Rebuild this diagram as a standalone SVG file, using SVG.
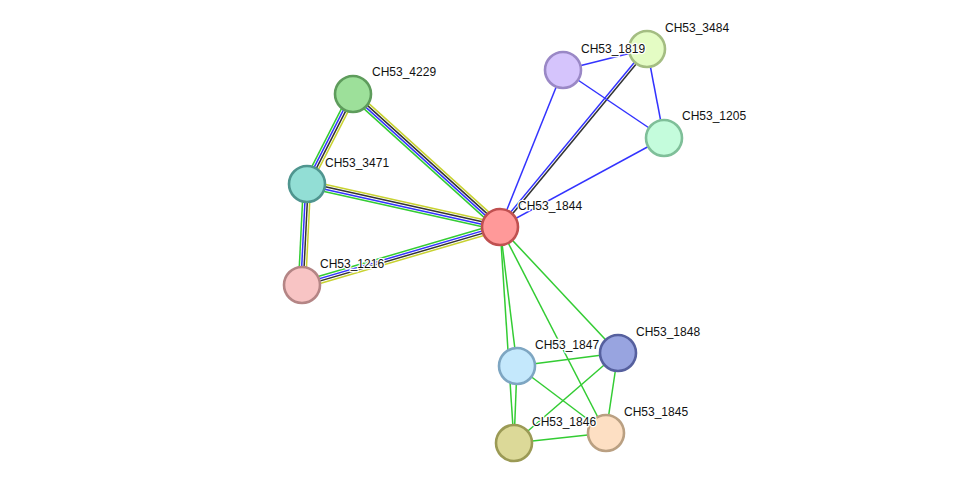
<svg xmlns="http://www.w3.org/2000/svg" width="975" height="489" viewBox="0 0 975 489">
<style>
.e{stroke-width:1.5;fill:none}
.g{stroke:#33cc33}
.b{stroke:#3333ff}
.k{stroke:#333333}
.y{stroke:#c8d230}
.n{stroke-width:2.6}
.t{font-family:"Liberation Sans",Arial,sans-serif;font-size:12px;fill:#111;stroke:#fff;stroke-width:2.5;paint-order:stroke;stroke-linejoin:round}
</style>
<rect width="975" height="489" fill="#fff"/>
<g id="connectors">
<line class="e g" x1="349.80" y1="92.36" x2="303.80" y2="182.36"/>
<line class="e b" x1="351.93" y1="93.45" x2="305.93" y2="183.45"/>
<line class="e k" x1="354.07" y1="94.55" x2="308.07" y2="184.55"/>
<line class="e y" x1="356.20" y1="95.64" x2="310.20" y2="185.64"/>
<line class="e y" x1="355.42" y1="91.33" x2="502.42" y2="224.33"/>
<line class="e k" x1="353.81" y1="93.11" x2="500.81" y2="226.11"/>
<line class="e b" x1="352.19" y1="94.89" x2="499.19" y2="227.89"/>
<line class="e g" x1="350.58" y1="96.67" x2="497.58" y2="229.67"/>
<line class="e y" x1="307.78" y1="180.49" x2="500.78" y2="223.49"/>
<line class="e k" x1="307.26" y1="182.83" x2="500.26" y2="225.83"/>
<line class="e b" x1="306.74" y1="185.17" x2="499.74" y2="228.17"/>
<line class="e g" x1="306.22" y1="187.51" x2="499.22" y2="230.51"/>
<line class="e g" x1="303.40" y1="183.82" x2="298.40" y2="284.82"/>
<line class="e b" x1="305.80" y1="183.94" x2="300.80" y2="284.94"/>
<line class="e k" x1="308.20" y1="184.06" x2="303.20" y2="285.06"/>
<line class="e y" x1="310.60" y1="184.18" x2="305.60" y2="285.18"/>
<line class="e g" x1="300.99" y1="281.55" x2="498.99" y2="223.55"/>
<line class="e b" x1="301.66" y1="283.85" x2="499.66" y2="225.85"/>
<line class="e k" x1="302.34" y1="286.15" x2="500.34" y2="228.15"/>
<line class="e y" x1="303.01" y1="288.45" x2="501.01" y2="230.45"/>
<line class="e b" x1="500" y1="227" x2="563" y2="70"/>
<line class="e b" x1="499.07" y1="226.24" x2="646.07" y2="48.24"/>
<line class="e k" x1="500.93" y1="227.76" x2="647.93" y2="49.76"/>
<line class="e b" x1="500" y1="227" x2="664" y2="138"/>
<line class="e b" x1="563" y1="70" x2="647" y2="49"/>
<line class="e b" x1="563" y1="70" x2="664" y2="138"/>
<line class="e b" x1="647" y1="49" x2="664" y2="138"/>
<line class="e g" x1="500" y1="227" x2="517" y2="366"/>
<line class="e g" x1="500" y1="227" x2="514" y2="443"/>
<line class="e g" x1="500" y1="227" x2="606" y2="433"/>
<line class="e g" x1="500" y1="227" x2="618" y2="353"/>
<line class="e g" x1="517" y1="366" x2="618" y2="353"/>
<line class="e g" x1="517" y1="366" x2="606" y2="433"/>
<line class="e g" x1="517" y1="366" x2="514" y2="443"/>
<line class="e g" x1="618" y1="353" x2="514" y2="443"/>
<line class="e g" x1="618" y1="353" x2="606" y2="433"/>
<line class="e g" x1="514" y1="443" x2="606" y2="433"/>
</g>
<g id="CH53_4229"><circle class="n" cx="353" cy="94" r="18" fill="#9de09a" stroke="#5e9c5c"/><text class="t" x="372" y="76">CH53_4229</text></g>
<g id="CH53_3471"><circle class="n" cx="307" cy="184" r="18" fill="#92ded5" stroke="#4f958f"/><text class="t" x="325" y="167">CH53_3471</text></g>
<g id="CH53_1216"><circle class="n" cx="302" cy="285" r="18" fill="#f8c4c4" stroke="#b48585"/><text class="t" x="320" y="268">CH53_1216</text></g>
<g id="CH53_1844"><circle class="n" cx="500" cy="227" r="18" fill="#ff9999" stroke="#c05050"/><text class="t" x="518" y="210">CH53_1844</text></g>
<g id="CH53_3484"><circle class="n" cx="647" cy="49" r="18" fill="#e4fcc4" stroke="#a4bd82"/><text class="t" x="665" y="32">CH53_3484</text></g>
<g id="CH53_1819"><circle class="n" cx="563" cy="70" r="18" fill="#d5c4fc" stroke="#9a88c6"/><text class="t" x="581" y="53">CH53_1819</text></g>
<g id="CH53_1205"><circle class="n" cx="664" cy="138" r="18" fill="#c4fcdc" stroke="#7fbf99"/><text class="t" x="682" y="120">CH53_1205</text></g>
<g id="CH53_1847"><circle class="n" cx="517" cy="366" r="18" fill="#c4e8fc" stroke="#7ea6c2"/><text class="t" x="535" y="349">CH53_1847</text></g>
<g id="CH53_1848"><circle class="n" cx="618" cy="353" r="18" fill="#98a4e0" stroke="#56609e"/><text class="t" x="636" y="336">CH53_1848</text></g>
<g id="CH53_1845"><circle class="n" cx="606" cy="433" r="18" fill="#fddfc3" stroke="#baa082"/><text class="t" x="624" y="416">CH53_1845</text></g>
<g id="CH53_1846"><circle class="n" cx="514" cy="443" r="18" fill="#dcd998" stroke="#9b9a55"/><text class="t" x="532" y="426">CH53_1846</text></g>
</svg>
